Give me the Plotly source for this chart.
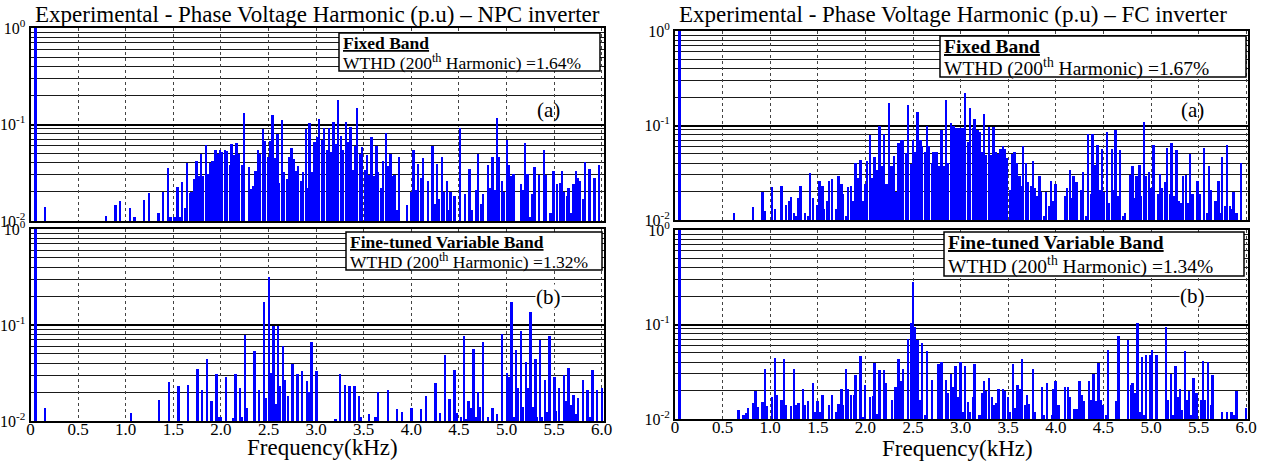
import plotly.graph_objects as go

# ---------------- data (frequency in kHz, amplitude in p.u.) ----------------
f_npc_a = [0.05, 0.15, 0.79, 0.89, 0.94, 1.04, 1.09, 1.19, 1.24, 1.34,
           1.39, 1.44, 1.47, 1.51, 1.54, 1.57, 1.59, 1.62, 1.64, 1.67,
           1.69, 1.72, 1.74, 1.76, 1.79, 1.81, 1.84, 1.865, 1.89, 1.91,
           1.94, 1.96, 1.99, 2.01, 2.04, 2.06, 2.09, 2.11, 2.14, 2.16,
           2.19, 2.22, 2.24, 2.29, 2.31, 2.34, 2.36, 2.39, 2.41, 2.44,
           2.46, 2.49, 2.51, 2.54, 2.56, 2.59, 2.61, 2.64, 2.66, 2.69,
           2.71, 2.74, 2.76, 2.79, 2.81, 2.84, 2.86, 2.89, 2.91, 2.93,
           2.96, 2.98, 3.01, 3.03, 3.06, 3.08, 3.11, 3.13, 3.16, 3.18,
           3.21, 3.23, 3.26, 3.28, 3.31, 3.33, 3.36, 3.38, 3.41, 3.43,
           3.46, 3.48, 3.51, 3.53, 3.56, 3.58, 3.60, 3.63, 3.65, 3.68,
           3.70, 3.73, 3.75, 3.78, 3.80, 3.82, 3.85, 3.87, 3.95, 4.00,
           4.02, 4.05, 4.07, 4.10, 4.12, 4.17, 4.22, 4.24, 4.27, 4.29,
           4.32, 4.34, 4.37, 4.39, 4.41, 4.45, 4.51, 4.56, 4.61, 4.63,
           4.68, 4.70, 4.73, 4.75, 4.80, 4.82, 4.85, 4.87, 4.90, 4.92,
           4.95, 4.97, 5.00, 5.02, 5.05, 5.07, 5.15, 5.17, 5.19, 5.22,
           5.24, 5.27, 5.29, 5.34, 5.39, 5.41, 5.46, 5.49, 5.53, 5.56,
           5.58, 5.60, 5.63, 5.65, 5.68, 5.70, 5.73, 5.75, 5.77, 5.80,
           5.82, 5.87, 5.92, 5.94, 5.97]
a_npc_a = [1.0, 0.014, 0.0114, 0.0147, 0.016, 0.0136, 0.011, 0.0165, 0.0197, 0.012,
           0.020, 0.0357, 0.0109, 0.011, 0.0227, 0.011, 0.0256, 0.0135, 0.040, 0.0197,
           0.020, 0.027, 0.042, 0.029, 0.050, 0.029, 0.061, 0.031, 0.040, 0.042,
           0.055, 0.050, 0.055, 0.052, 0.054, 0.053, 0.038, 0.063, 0.048, 0.064,
           0.049, 0.038, 0.133, 0.036, 0.0217, 0.023, 0.033, 0.054, 0.049, 0.089,
           0.067, 0.046, 0.068, 0.124, 0.045, 0.079, 0.025, 0.112, 0.032, 0.027,
           0.046, 0.057, 0.044, 0.033, 0.037, 0.026, 0.032, 0.090, 0.022, 0.104,
           0.032, 0.066, 0.075, 0.114, 0.069, 0.091, 0.054, 0.091, 0.052, 0.107,
           0.063, 0.180, 0.076, 0.054, 0.107, 0.066, 0.095, 0.034, 0.060, 0.147,
           0.050, 0.058, 0.034, 0.048, 0.030, 0.075, 0.029, 0.060, 0.032, 0.022,
           0.042, 0.081, 0.037, 0.050, 0.029, 0.030, 0.013, 0.046, 0.0147, 0.020,
           0.054, 0.021, 0.039, 0.028, 0.045, 0.026, 0.060, 0.015, 0.039, 0.017,
           0.046, 0.020, 0.026, 0.013, 0.020, 0.018, 0.091, 0.019, 0.035, 0.013,
           0.021, 0.049, 0.015, 0.019, 0.038, 0.022, 0.046, 0.021, 0.116, 0.046,
           0.026, 0.020, 0.069, 0.038, 0.029, 0.031, 0.024, 0.021, 0.064, 0.031,
           0.011, 0.019, 0.036, 0.030, 0.055, 0.030, 0.012, 0.033, 0.024, 0.025,
           0.033, 0.020, 0.018, 0.022, 0.012, 0.024, 0.033, 0.028, 0.026, 0.017,
           0.041, 0.035, 0.028, 0.010, 0.038]

f_npc_b = [0.05, 0.15, 1.05, 1.35, 1.45, 1.55, 1.65, 1.75, 1.80, 1.85,
           1.90, 1.95, 1.98, 2.00, 2.05, 2.13, 2.15, 2.20, 2.22, 2.25,
           2.27, 2.35, 2.40, 2.45, 2.47, 2.50, 2.52, 2.55, 2.57, 2.60,
           2.62, 2.65, 2.67, 2.70, 2.75, 2.80, 2.85, 2.90, 2.92, 2.95,
           3.00, 3.20, 3.25, 3.30, 3.35, 3.40, 3.45, 3.47, 3.55, 3.62,
           3.65, 3.75, 3.85, 3.90, 4.00, 4.10, 4.15, 4.25, 4.30, 4.35,
           4.40, 4.45, 4.47, 4.52, 4.55, 4.57, 4.60, 4.62, 4.65, 4.67,
           4.70, 4.72, 4.75, 4.80, 4.85, 4.90, 4.95, 5.00, 5.02, 5.05,
           5.07, 5.10, 5.12, 5.15, 5.17, 5.20, 5.22, 5.25, 5.27, 5.30,
           5.32, 5.35, 5.37, 5.40, 5.42, 5.45, 5.50, 5.52, 5.55, 5.60,
           5.62, 5.65, 5.67, 5.70, 5.72, 5.75, 5.80, 5.85, 5.87, 5.90,
           5.95, 6.00]
a_npc_b = [1.0, 0.0138, 0.012, 0.0165, 0.0257, 0.023, 0.024, 0.035, 0.021, 0.044,
           0.016, 0.031, 0.011, 0.011, 0.029, 0.0107, 0.031, 0.022, 0.011, 0.079,
           0.0136, 0.053, 0.021, 0.175, 0.0175, 0.318, 0.032, 0.098, 0.015, 0.098,
           0.023, 0.061, 0.027, 0.018, 0.039, 0.031, 0.033, 0.026, 0.020, 0.066,
           0.033, 0.0104, 0.031, 0.024, 0.023, 0.023, 0.018, 0.011, 0.0117, 0.011,
           0.020, 0.021, 0.0133, 0.0125, 0.0138, 0.0133, 0.018, 0.025, 0.012, 0.049,
           0.017, 0.034, 0.012, 0.011, 0.077, 0.0105, 0.016, 0.0138, 0.056, 0.011,
           0.020, 0.014, 0.066, 0.011, 0.0135, 0.0118, 0.080, 0.032, 0.029, 0.175,
           0.011, 0.055, 0.022, 0.086, 0.014, 0.041, 0.022, 0.135, 0.014, 0.044,
           0.011, 0.070, 0.011, 0.027, 0.0125, 0.077, 0.029, 0.0127, 0.022, 0.030,
           0.016, 0.036, 0.0147, 0.0185, 0.0117, 0.0175, 0.027, 0.021, 0.011, 0.034,
           0.021, 0.022]

f_fc_a = [0.05, 0.62, 0.82, 0.92, 0.945, 1.02, 1.05, 1.12, 1.17, 1.20,
          1.22, 1.25, 1.27, 1.30, 1.32, 1.37, 1.40, 1.42, 1.45, 1.50,
          1.52, 1.55, 1.57, 1.60, 1.62, 1.65, 1.70, 1.72, 1.75, 1.77,
          1.80, 1.82, 1.85, 1.87, 1.90, 1.92, 1.95, 1.97, 2.00, 2.02,
          2.05, 2.07, 2.10, 2.13, 2.15, 2.17, 2.20, 2.225, 2.25, 2.275,
          2.30, 2.33, 2.35, 2.38, 2.40, 2.43, 2.45, 2.48, 2.50, 2.53,
          2.55, 2.58, 2.60, 2.63, 2.65, 2.67, 2.70, 2.72, 2.75, 2.78,
          2.80, 2.83, 2.85, 2.87, 2.90, 2.93, 2.95, 2.98, 3.00, 3.03,
          3.05, 3.08, 3.10, 3.13, 3.15, 3.18, 3.20, 3.22, 3.25, 3.27,
          3.30, 3.32, 3.35, 3.37, 3.40, 3.42, 3.45, 3.47, 3.49, 3.52,
          3.54, 3.57, 3.59, 3.62, 3.64, 3.66, 3.69, 3.71, 3.74, 3.76,
          3.78, 3.80, 3.83, 3.85, 3.88, 3.90, 3.93, 3.95, 3.98, 4.00,
          4.10, 4.12, 4.15, 4.17, 4.19, 4.22, 4.27, 4.29, 4.32, 4.34,
          4.37, 4.39, 4.41, 4.44, 4.46, 4.49, 4.51, 4.54, 4.56, 4.59,
          4.61, 4.63, 4.66, 4.68, 4.71, 4.73, 4.78, 4.81, 4.83, 4.85,
          4.88, 4.90, 4.93, 4.95, 4.98, 5.00, 5.03, 5.05, 5.08, 5.10,
          5.12, 5.15, 5.17, 5.20, 5.22, 5.24, 5.27, 5.29, 5.32, 5.34,
          5.37, 5.39, 5.41, 5.44, 5.49, 5.51, 5.56, 5.59, 5.61, 5.63,
          5.68, 5.71, 5.73, 5.75, 5.78, 5.80, 5.83, 5.85, 5.87, 5.90,
          5.95]
a_fc_a = [1.0, 0.012, 0.0138, 0.0199, 0.0125, 0.0225, 0.013, 0.023, 0.0144, 0.016,
          0.0174, 0.012, 0.011, 0.017, 0.023, 0.012, 0.011, 0.0316, 0.017, 0.0144,
          0.026, 0.023, 0.013, 0.016, 0.026, 0.027, 0.013, 0.029, 0.024, 0.019,
          0.011, 0.0225, 0.023, 0.016, 0.040, 0.028, 0.043, 0.016, 0.024, 0.042,
          0.079, 0.028, 0.046, 0.034, 0.099, 0.037, 0.082, 0.024, 0.175, 0.037,
          0.048, 0.020, 0.066, 0.071, 0.071, 0.051, 0.163, 0.039, 0.071, 0.052,
          0.138, 0.071, 0.060, 0.052, 0.099, 0.060, 0.040, 0.052, 0.052, 0.037,
          0.090, 0.037, 0.188, 0.040, 0.106, 0.099, 0.093, 0.093, 0.093, 0.093,
          0.223, 0.067, 0.155, 0.094, 0.117, 0.090, 0.085, 0.052, 0.131, 0.049,
          0.097, 0.049, 0.097, 0.052, 0.050, 0.056, 0.060, 0.056, 0.045, 0.021,
          0.050, 0.052, 0.040, 0.029, 0.023, 0.060, 0.040, 0.025, 0.023, 0.042,
          0.022, 0.018, 0.029, 0.020, 0.011, 0.020, 0.014, 0.026, 0.016, 0.024,
          0.018, 0.022, 0.034, 0.017, 0.029, 0.025, 0.021, 0.032, 0.011, 0.082,
          0.019, 0.081, 0.038, 0.062, 0.021, 0.056, 0.020, 0.085, 0.015, 0.056,
          0.021, 0.089, 0.018, 0.055, 0.011, 0.012, 0.030, 0.037, 0.017, 0.029,
          0.038, 0.018, 0.108, 0.029, 0.032, 0.022, 0.062, 0.010, 0.019, 0.031,
          0.022, 0.025, 0.058, 0.019, 0.066, 0.018, 0.055, 0.016, 0.015, 0.029,
          0.030, 0.015, 0.050, 0.019, 0.026, 0.019, 0.058, 0.012, 0.037, 0.021,
          0.016, 0.026, 0.012, 0.046, 0.014, 0.062, 0.014, 0.013, 0.020, 0.012,
          0.040]

f_fc_b = [0.05, 0.67, 0.72, 0.75, 0.77, 0.82, 0.85, 0.87, 0.92, 0.945,
          0.97, 1.02, 1.05, 1.07, 1.12, 1.15, 1.17, 1.22, 1.25, 1.27,
          1.30, 1.35, 1.37, 1.40, 1.45, 1.47, 1.50, 1.52, 1.55, 1.62,
          1.65, 1.70, 1.72, 1.75, 1.77, 1.80, 1.82, 1.85, 1.88, 1.90,
          1.95, 1.97, 2.00, 2.05, 2.08, 2.10, 2.13, 2.15, 2.20, 2.22,
          2.28, 2.32, 2.35, 2.38, 2.40, 2.45, 2.48, 2.50, 2.52, 2.55,
          2.58, 2.60, 2.63, 2.65, 2.70, 2.77, 2.80, 2.85, 2.87, 2.90,
          2.93, 2.95, 2.98, 3.00, 3.03, 3.05, 3.08, 3.10, 3.13, 3.15,
          3.20, 3.23, 3.25, 3.27, 3.30, 3.33, 3.35, 3.38, 3.40, 3.45,
          3.47, 3.50, 3.52, 3.55, 3.57, 3.60, 3.62, 3.65, 3.68, 3.70,
          3.72, 3.76, 3.78, 3.86, 3.88, 3.91, 3.96, 3.98, 4.00, 4.03,
          4.10, 4.13, 4.15, 4.20, 4.23, 4.25, 4.28, 4.30, 4.35, 4.37,
          4.40, 4.42, 4.45, 4.47, 4.50, 4.53, 4.55, 4.64, 4.66, 4.76,
          4.79, 4.81, 4.83, 4.86, 4.88, 4.91, 4.93, 4.95, 4.99, 5.01,
          5.06, 5.16, 5.18, 5.21, 5.23, 5.26, 5.28, 5.31, 5.33, 5.36,
          5.38, 5.40, 5.43, 5.45, 5.48, 5.53, 5.55, 5.57, 5.60, 5.63,
          5.65, 5.72, 5.75, 5.80, 5.85, 5.88, 5.90, 6.00]
a_fc_b = [1.0, 0.0124, 0.0109, 0.0115, 0.013, 0.0146, 0.020, 0.0134, 0.0153, 0.034,
          0.0136, 0.017, 0.044, 0.018, 0.016, 0.043, 0.014, 0.0137, 0.034, 0.014,
          0.0146, 0.021, 0.014, 0.0155, 0.024, 0.0118, 0.0155, 0.012, 0.018, 0.014,
          0.018, 0.0118, 0.0145, 0.021, 0.014, 0.034, 0.021, 0.018, 0.018, 0.029,
          0.046, 0.0105, 0.023, 0.0172, 0.0175, 0.039, 0.0112, 0.033, 0.033, 0.024,
          0.016, 0.022, 0.043, 0.025, 0.034, 0.070, 0.105, 0.279, 0.095, 0.068,
          0.016, 0.064, 0.011, 0.053, 0.026, 0.038, 0.040, 0.026, 0.019, 0.030,
          0.022, 0.036, 0.017, 0.040, 0.012, 0.036, 0.015, 0.0119, 0.017, 0.038,
          0.011, 0.019, 0.025, 0.020, 0.027, 0.017, 0.014, 0.0146, 0.021, 0.021,
          0.020, 0.017, 0.012, 0.038, 0.013, 0.023, 0.021, 0.043, 0.014, 0.018,
          0.0143, 0.034, 0.012, 0.022, 0.011, 0.024, 0.011, 0.021, 0.025, 0.014,
          0.022, 0.022, 0.017, 0.0128, 0.0128, 0.025, 0.018, 0.0155, 0.025, 0.016,
          0.030, 0.0155, 0.039, 0.016, 0.014, 0.011, 0.054, 0.0155, 0.075, 0.069,
          0.023, 0.024, 0.019, 0.105, 0.012, 0.045, 0.011, 0.048, 0.048, 0.054,
          0.048, 0.095, 0.016, 0.030, 0.011, 0.036, 0.017, 0.021, 0.0125, 0.053,
          0.016, 0.020, 0.011, 0.027, 0.019, 0.016, 0.041, 0.016, 0.040, 0.014,
          0.029, 0.010, 0.012, 0.012, 0.012, 0.011, 0.020, 0.013]

x_ticks = [0, 0.5, 1.0, 1.5, 2.0, 2.5, 3.0, 3.5, 4.0, 4.5, 5.0, 5.5, 6.0]
x_tick_labels = ["0", "0.5", "1.0", "1.5", "2.0", "2.5", "3.0", "3.5", "4.0", "4.5", "5.0", "5.5", "6.0"]
y_ticks = [0.01, 0.1, 1]
y_tick_labels = ["10<sup>-2</sup>", "10<sup>-1</sup>", "10<sup>0</sup>"]
y_minor = [m * 0.01 for m in range(2, 10)] + [m * 0.1 for m in range(2, 10)]

titles = ["Experimental - Phase Voltage Harmonic (p.u) \u2013 NPC inverter",
          "Experimental - Phase Voltage Harmonic (p.u) \u2013 FC inverter"]
band_titles = ["Fixed Band", "Fine-tuned Variable Band"]
wthd = {"npc_a": "1.64%", "npc_b": "1.32%", "fc_a": "1.67%", "fc_b": "1.34%"}

# ---------------- layout geometry (pixels) ----------------
W, H = 1267, 461
SERIF = "Liberation Serif, Times New Roman, serif"


def px(x):
    return x / W


def py(y):
    return 1 - y / H


panels = [
    dict(f=f_npc_a, a=a_npc_a, xpx=(30.5, 604), ypx=(28, 221), bottom=False,
         key="npc_a", band=0, box=(339, 33, 600, 71), fs=17.5, tag="(a)", tagpos=(548, 110), tagbg=False),
    dict(f=f_npc_b, a=a_npc_b, xpx=(30.5, 604), ypx=(229, 421), bottom=True,
         key="npc_b", band=1, box=(346, 232, 602, 270), fs=17.5, tag="(b)", tagpos=(548, 297), tagbg=True),
    dict(f=f_fc_a, a=a_fc_a, xpx=(675, 1248), ypx=(31, 220), bottom=False,
         key="fc_a", band=0, box=(940, 36, 1246, 77), fs=19.5, tag="(a)", tagpos=(1192, 110), tagbg=False),
    dict(f=f_fc_b, a=a_fc_b, xpx=(675, 1248), ypx=(230, 419), bottom=True,
         key="fc_b", band=1, box=(944, 232, 1244, 276), fs=19.5, tag="(b)", tagpos=(1192, 296), tagbg=True),
]

fig = go.Figure()
layout = dict(template="none", width=W, height=H, autosize=False,
              margin=dict(l=0, r=0, t=0, b=0, pad=0),
              paper_bgcolor="white", plot_bgcolor="white", showlegend=False,
              font=dict(family=SERIF, color="black"),
              bargap=0, annotations=[], shapes=[])

for i, p in enumerate(panels, start=1):
    xn = "x" if i == 1 else f"x{i}"
    yn = "y" if i == 1 else f"y{i}"
    fig.add_trace(go.Bar(x=p["f"], y=p["a"], width=0.02, xaxis=xn, yaxis=yn,
                         marker=dict(color="#0000ff", line=dict(width=0)),
                         hoverinfo="x+y"))
    x0, x1 = p["xpx"]
    yt, yb = p["ypx"]
    xrange_max = (x1 - x0) / 95.2
    layout["xaxis" if i == 1 else f"xaxis{i}"] = dict(
        domain=[px(x0), px(x1)], anchor=yn, range=[0, xrange_max], automargin=False,
        tickmode="array", tickvals=x_ticks, ticktext=x_tick_labels,
        showticklabels=p["bottom"], ticks="", ticklabelstandoff=-8,
        tickfont=dict(family=SERIF, size=17, color="black"),
        showgrid=True, gridcolor="#444444", griddash="dot", gridwidth=1,
        zeroline=False, showline=True, mirror=True, linecolor="black", linewidth=2,
    )
    layout["yaxis" if i == 1 else f"yaxis{i}"] = dict(
        domain=[py(yb), py(yt)], anchor=xn, type="log", range=[-2, 0], automargin=False,
        tickmode="array", tickvals=y_ticks, ticktext=y_tick_labels, ticks="",
        ticklabelstandoff=0,
        tickfont=dict(family=SERIF, size=16, color="black"),
        showgrid=True, gridcolor="black", gridwidth=1.5,
        minor=dict(tickmode="array", tickvals=y_minor, showgrid=True,
                   gridcolor="#1a1a1a", gridwidth=1.4, ticks=""),
        zeroline=False, showline=True, mirror=True, linecolor="black", linewidth=2,
    )
    # info box
    bx0, by0, bx1, by1 = p["box"]
    layout["shapes"].append(dict(type="rect", xref="paper", yref="paper",
                                 x0=px(bx0), x1=px(bx1), y0=py(by1), y1=py(by0),
                                 line=dict(color="black", width=1.5),
                                 fillcolor="white", layer="above"))
    h = by1 - by0
    layout["annotations"].append(dict(
        xref="paper", yref="paper", x=px(bx0 + 2), y=py(by0 + h * 0.25),
        xanchor="left", yanchor="middle", showarrow=False,
        text=f"<b><u>{band_titles[p['band']]}</u></b>",
        font=dict(family=SERIF, size=p["fs"], color="black")))
    layout["annotations"].append(dict(
        xref="paper", yref="paper", x=px(bx0 + 2), y=py(by0 + h * 0.76),
        xanchor="left", yanchor="middle", showarrow=False,
        text=f"WTHD (200<sup>th</sup> Harmonic) ={wthd[p['key']]}",
        font=dict(family=SERIF, size=p["fs"], color="black")))
    # (a)/(b) tag
    tx, ty = p["tagpos"]
    tag = dict(xref="paper", yref="paper", x=px(tx), y=py(ty), xanchor="center", yanchor="middle",
               showarrow=False, text=p["tag"], borderpad=0,
               font=dict(family=SERIF, size=21, color="black"))
    if p["tagbg"]:
        tag["bgcolor"] = "white"
    layout["annotations"].append(tag)

# column titles
for cx, t in zip([317.5, 953], titles):
    layout["annotations"].append(dict(
        xref="paper", yref="paper", x=px(cx), y=py(14), xanchor="center", yanchor="middle",
        showarrow=False, text=t, font=dict(family=SERIF, size=23, color="black")))
# x-axis titles
for cx, cy in [(322, 447), (957, 448)]:
    layout["annotations"].append(dict(
        xref="paper", yref="paper", x=px(cx), y=py(cy), xanchor="center", yanchor="middle",
        showarrow=False, text="Frequency(kHz)", font=dict(family=SERIF, size=23, color="black")))

fig.update_layout(**layout)
fig.write_html("out.html", config={"displayModeBar": False},
               post_script="document.body.style.margin='0px'; document.body.style.overflow='hidden';")
